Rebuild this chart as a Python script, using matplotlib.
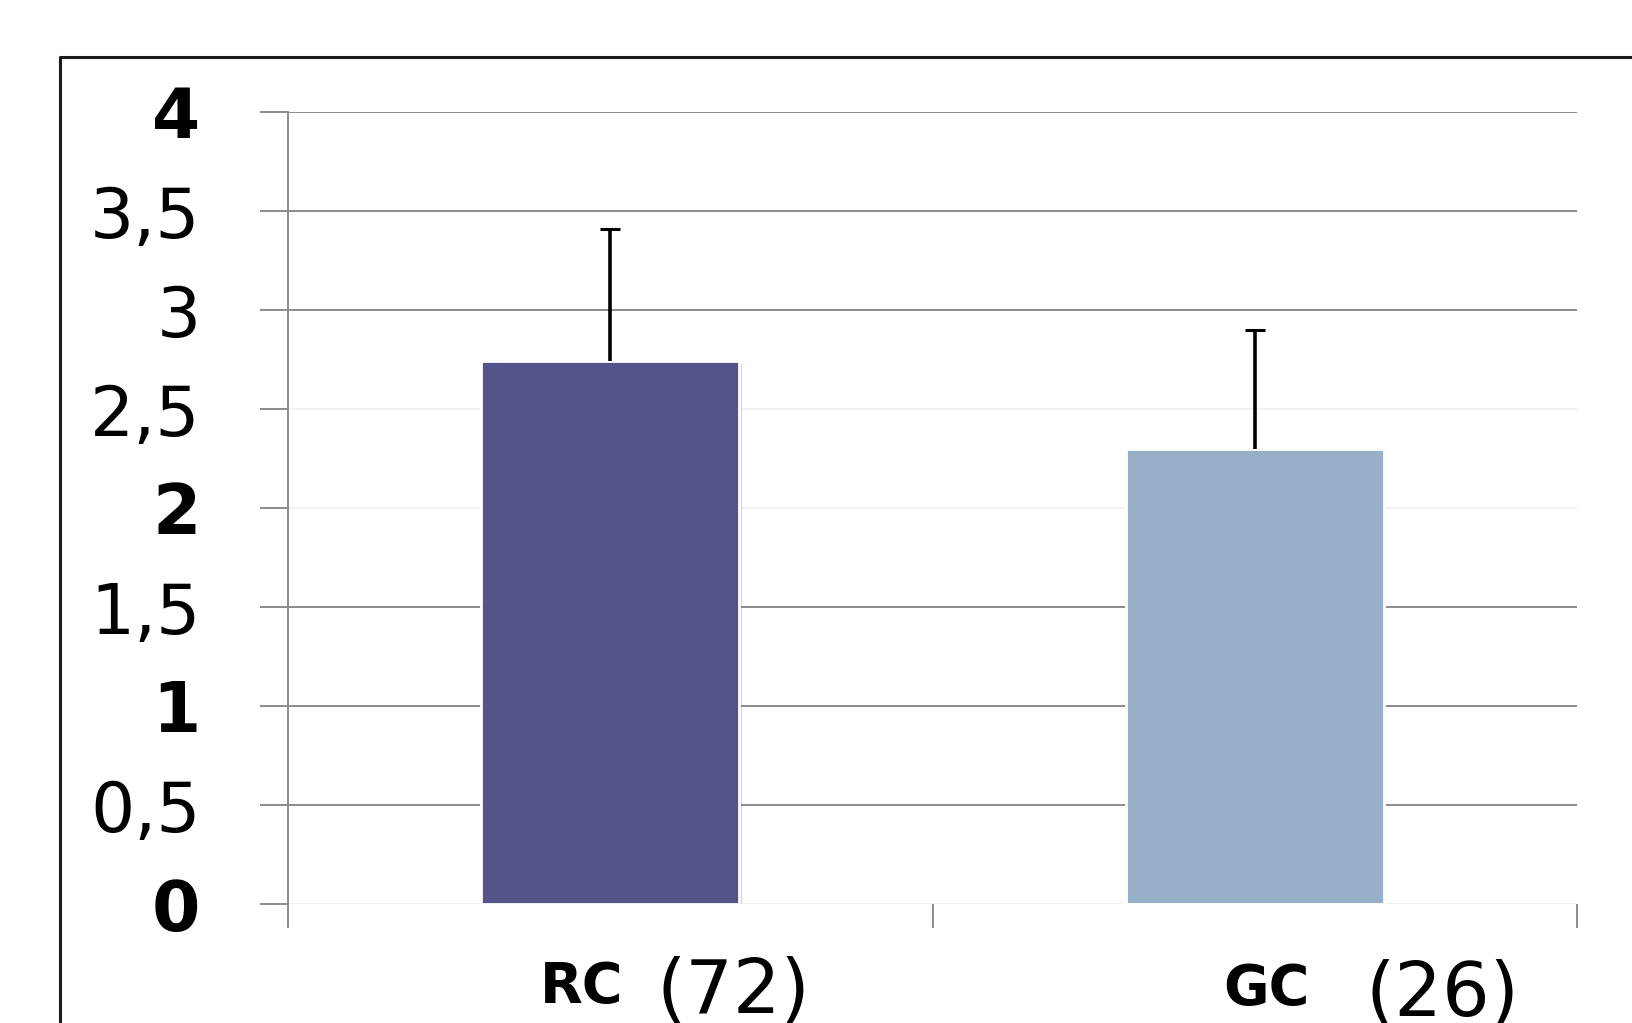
import matplotlib
matplotlib.use("Agg")
import matplotlib.pyplot as plt
from matplotlib.lines import Line2D
from matplotlib import patheffects as pe

# ---- data ----
categories = ["RC", "GC"]
group_sizes = ["(72)", "(26)"]
means = [2.74, 2.30]
errors_up = [0.67, 0.60]
bar_colors = ["#54548A", "#97B0C8"]
y_ticks = [0, 0.5, 1, 1.5, 2, 2.5, 3, 3.5, 4]
y_tick_labels = ["0", "0,5", "1", "1,5", "2", "2,5", "3", "3,5", "4"]

W, H, DPI = 1632, 1023, 100
fig = plt.figure(figsize=(W / DPI, H / DPI), dpi=DPI)
fig.patch.set_facecolor("white")

ax_left, ax_right = 288, 1577
y_top, y_zero = 112, 904
ax = fig.add_axes([ax_left / W, (H - y_zero) / H,
                   (ax_right - ax_left) / W, (y_zero - y_top) / H])

grid_col = "#8c8c8c"
x = list(range(len(categories)))

ax.set_axisbelow(True)
bars = ax.bar(x, means, width=0.4, color=bar_colors, edgecolor="white",
              linewidth=2, zorder=3)
for b in bars:
    b.set_path_effects([pe.SimplePatchShadow(offset=(2, -2), shadow_rgbFace="#888888", alpha=0.35),
                        pe.Normal()])
eb = ax.errorbar(x, means, yerr=[[0] * len(means), errors_up], fmt="none",
                 ecolor="black", elinewidth=2.6, capsize=7.5, capthick=2.2, zorder=4)
# hide the lower (zero-length) caps
eb[1][0].set_visible(False)

ax.set_xlim(-0.5, len(categories) - 0.5)
ax.set_ylim(0, 4)

# y axis
ax.set_yticks(y_ticks)
ax.set_yticklabels(y_tick_labels)
ax.tick_params(axis="y", direction="out", length=20, width=1.4, color=grid_col,
               pad=43, labelsize=50, labelcolor="black")
ax.yaxis.grid(True, color=grid_col, linewidth=1.4)
faint = {0: "#f0f0f0", 2: "#f2f2f2", 2.5: "#f2f2f2"}
for val, gl, tk in zip(y_ticks, ax.get_ygridlines(), ax.yaxis.get_major_ticks()):
    if val in faint:
        gl.set_color(faint[val])
        tk.tick1line.set_color(faint[val])
for val, lab in zip(y_ticks, ax.get_yticklabels()):
    if val in (0, 1, 2, 4):
        lab.set_fontweight("bold")

# x axis: ticks at category boundaries
ax.set_xticks([i - 0.5 for i in range(len(categories) + 1)])
ax.set_xticklabels([])
ax.tick_params(axis="x", direction="out", length=17, width=1.4, color=grid_col)

for s in ["top", "right", "bottom"]:
    ax.spines[s].set_visible(False)
ax.spines["left"].set_color(grid_col)
ax.spines["left"].set_linewidth(1.4)

# category labels
name_offsets = [(-51, -70.5), (-23, -72)]
size_offsets = [(33, -78.5), (80, -80.5)]
for i, (cat, n) in enumerate(zip(categories, group_sizes)):
    ax.annotate(cat, xy=(i, 0), xytext=name_offsets[i], textcoords="offset points",
                ha="left", va="baseline", fontsize=40, fontweight="bold",
                annotation_clip=False)
    ax.annotate(n, xy=(i, 0), xytext=size_offsets[i], textcoords="offset points",
                ha="left", va="baseline", fontsize=54, fontweight="normal",
                annotation_clip=False)

# outer frame (left and top edges visible)
fx, fy = 60, 57
fig.add_artist(Line2D([fx / W, fx / W, 1.0], [0.0, 1 - fy / H, 1 - fy / H],
                      transform=fig.transFigure, color="#1a1a1a", linewidth=2.2))

fig.savefig("out.png", dpi=DPI, facecolor="white")
